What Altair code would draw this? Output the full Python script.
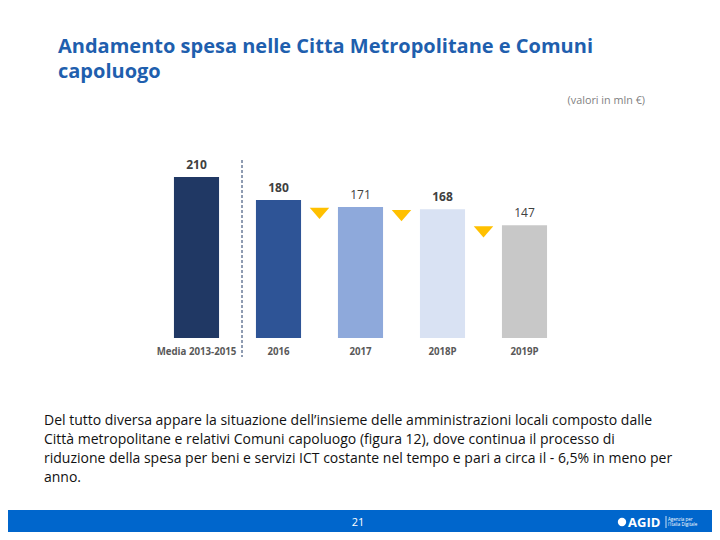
import altair as alt
import pandas as pd

categories = ["Media 2013-2015", "2016", "2017", "2018P", "2019P"]
values = [210, 180, 171, 168, 147]
bar_colors = ["#203864", "#2E5496", "#8EA9DB", "#D9E2F3", "#C8C8C8"]
bold_labels = ["Media 2013-2015", "2016", "2018P"]

title_lines = ["Andamento spesa nelle Citta Metropolitane e Comuni", "capoluogo"]
unit_note = "(valori in mln €)"
paragraph = [
    "Del tutto diversa appare la situazione dell\u2019insieme delle amministrazioni locali composto dalle",
    "Città metropolitane e relativi Comuni capoluogo (figura 12), dove continua il processo di",
    "riduzione della spesa per beni e servizi ICT costante nel tempo e pari a circa il - 6,5% in meno per",
    "anno.",
]
page_number = "21"

df = pd.DataFrame({"cat": categories, "val": values})
tri = pd.DataFrame({"cat": categories[2:], "val": values[2:]})

FONT = "Open Sans"

xs = alt.X("cat:N", sort=categories, axis=None,
           scale=alt.Scale(range=[147.5, 557.5], paddingInner=0.45, paddingOuter=0.225))
ys = alt.Y("val:Q", axis=None, scale=alt.Scale(domain=[0, 210], range=[330, 169], nice=False))

bars = alt.Chart(df).mark_bar().encode(
    x=xs, y=ys,
    color=alt.Color("cat:N", sort=categories, legend=None,
                    scale=alt.Scale(domain=categories, range=bar_colors)),
)

lab_bold = alt.Chart(df).transform_filter(
    alt.FieldOneOfPredicate(field="cat", oneOf=bold_labels)
).mark_text(font=FONT, fontSize=12, fontWeight="bold", color="#404040", dy=-8, baseline="alphabetic").encode(
    x=xs, y=ys, text="val:Q")
lab_norm = alt.Chart(df).transform_filter(
    {"not": alt.FieldOneOfPredicate(field="cat", oneOf=bold_labels)}
).mark_text(font=FONT, fontSize=12, fontWeight="normal", color="#404040", dy=-8, baseline="alphabetic").encode(
    x=xs, y=ys, text="val:Q")

cat_labels = alt.Chart(df).mark_text(font=FONT, fontSize=9.7, fontWeight="bold", color="#595959",
                                     baseline="alphabetic").encode(
    x=xs, y=alt.value(347), text="cat:N")

triangles = alt.Chart(tri).mark_point(
    shape="M-1,-0.58L1,-0.58L0,0.58Z", filled=True, opacity=1, color="#FFC000",
    size=380, xOffset=-41, yOffset=6.5, strokeWidth=0,
).encode(x=xs, y=ys)

divider = alt.Chart(pd.DataFrame({"a": [0]})).mark_rule(
    color="#1F3864", strokeDash=[3, 2], strokeWidth=1).encode(
    x=alt.value(234), y=alt.value(152), y2=alt.value(349))

title = alt.Chart(pd.DataFrame({"a": [0]})).mark_text(
    text=title_lines, font=FONT, fontSize=20, fontWeight="bold", color="#1F5FAE",
    align="left", baseline="alphabetic", lineHeight=25).encode(x=alt.value(50), y=alt.value(45))

note = alt.Chart(pd.DataFrame({"a": [0]})).mark_text(
    text=unit_note, font=FONT, fontSize=10.8, color="#7F7F7F",
    align="right", baseline="alphabetic").encode(x=alt.value(637), y=alt.value(96))

para = alt.Chart(pd.DataFrame({"a": [0]})).mark_text(
    text=paragraph, font=FONT, fontSize=14, color="#111111",
    align="left", baseline="alphabetic", lineHeight=19).encode(x=alt.value(36), y=alt.value(417))

footer = alt.Chart(pd.DataFrame({"a": [0]})).mark_rect(color="#0066CC").encode(
    x=alt.value(-8), x2=alt.value(712), y=alt.value(502), y2=alt.value(540))

pnum = alt.Chart(pd.DataFrame({"a": [0]})).mark_text(
    text=page_number, font=FONT, fontSize=11, color="white", align="center",
    baseline="alphabetic").encode(x=alt.value(350), y=alt.value(518))

logo_sym = alt.Chart(pd.DataFrame({"a": [0]})).mark_point(
    shape="circle", filled=True, color="white", size=70, opacity=1).encode(
    x=alt.value(614), y=alt.value(514))
logo_txt = alt.Chart(pd.DataFrame({"a": [0]})).mark_text(
    text="AGID", font=FONT, fontSize=13, fontWeight="bold", color="white", align="left",
    baseline="alphabetic").encode(x=alt.value(620), y=alt.value(519))
logo_sub = alt.Chart(pd.DataFrame({"a": [0]})).mark_text(
    text=["Agenzia per", "l'Italia Digitale"], font=FONT, fontSize=4.5, color="white", align="left",
    baseline="alphabetic", lineHeight=5).encode(x=alt.value(660), y=alt.value(513))
logo_bar = alt.Chart(pd.DataFrame({"a": [0]})).mark_rule(color="white", strokeWidth=0.8).encode(
    x=alt.value(658), y=alt.value(508), y2=alt.value(520))

chart = alt.layer(
    footer, bars, lab_bold, lab_norm, cat_labels, triangles, divider, title, note, para,
    pnum, logo_sym, logo_txt, logo_bar, logo_sub,
).properties(
    width=704, height=524, padding=0,
    autosize=alt.AutoSizeParams(type="none"),
).configure_view(stroke=None)

chart.save("out.html", embed_options={"renderer": "svg", "actions": False})
